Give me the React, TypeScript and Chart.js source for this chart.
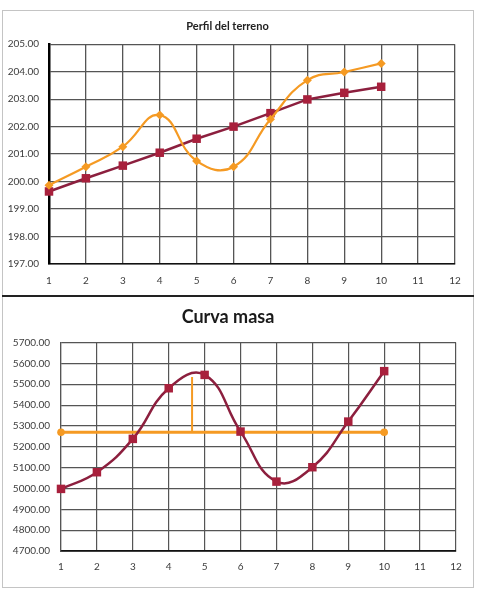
import React, { useEffect, useRef } from "react";
import { Chart, registerables } from "chart.js";

Chart.register(...registerables);

const xValues = [1, 2, 3, 4, 5, 6, 7, 8, 9, 10];
const rasante = [199.64, 200.12, 200.58, 201.05, 201.56, 202.0, 202.49, 202.99, 203.23, 203.45];
const terreno = [199.87, 200.54, 201.27, 202.42, 200.75, 200.54, 202.27, 203.69, 203.99, 204.3];
const masa = [4998, 5078, 5238, 5481, 5545, 5273, 5033, 5102, 5321, 5563];
const compensadoraX = [1, 10];
const compensadoraY = 5270;
const ordenadaX = 4.65;
const ordenadaTop = 5535;

const RED_LINE = "#8c1f3e";
const RED_POINT = "#a8203c";
const ORANGE = "#f59a23";
const GRID = "#555555";
const TICK = "#3c3c3c";
const FONT = "Lato";

const pts = (xs: number[], ys: number[]) => xs.map((x, i) => ({ x, y: ys[i] }));

function usePlainChart(ref: React.RefObject<HTMLCanvasElement | null>, cfg: () => any) {
  useEffect(() => {
    if (!ref.current) return;
    const c = new Chart(ref.current, cfg());
    return () => c.destroy();
  }, []);
}

export default function App() {
  const top = useRef<HTMLCanvasElement | null>(null);
  const bot = useRef<HTMLCanvasElement | null>(null);

  usePlainChart(top, () => ({
    type: "line",
    data: {
      datasets: [
        {
          label: "Terreno",
          data: pts(xValues, terreno),
          borderColor: ORANGE,
          backgroundColor: ORANGE,
          borderWidth: 2.2,
          pointStyle: "rectRot",
          pointRadius: 4.5,
          pointBorderWidth: 0,
          tension: 0.45,
          clip: false,
        },
        {
          label: "Rasante",
          data: pts(xValues, rasante),
          borderColor: RED_LINE,
          backgroundColor: RED_POINT,
          borderWidth: 2.5,
          pointStyle: "rect",
          pointRadius: 6,
          pointBorderWidth: 0,
          tension: 0,
          clip: false,
        },
      ],
    },
    options: {
      responsive: false,
      animation: false,
      layout: { padding: { left: 0, right: 25, top: 0, bottom: 0 } },
      plugins: {
        legend: { display: false },
        tooltip: { enabled: false },
        title: {
          display: true,
          text: "Perfil del terreno",
          color: "#222",
          font: { family: FONT, size: 11, weight: "bold" },
          padding: { top: 20, bottom: 11 },
        },
      },
      scales: {
        x: {
          type: "linear",
          min: 1,
          max: 12,
          afterFit: (s: any) => { s.height = 32; },
          ticks: { stepSize: 1, padding: 11, color: TICK, font: { family: FONT, size: 10 } },
          grid: { color: GRID, lineWidth: 1.3, drawTicks: false },
          border: { color: "#111", width: 1.5 },
        },
        y: {
          min: 197,
          max: 205,
          afterFit: (s: any) => { s.width = 49; },
          ticks: {
            stepSize: 1,
            padding: 10,
            color: TICK,
            font: { family: FONT, size: 10 },
            callback: (v: any) => Number(v).toFixed(2),
          },
          grid: { color: GRID, lineWidth: 1.3, drawTicks: false },
          border: { color: "#000", width: 2.5 },
        },
      },
    },
  }));

  usePlainChart(bot, () => ({
    type: "line",
    data: {
      datasets: [
        {
          label: "Curva masa",
          data: pts(xValues, masa),
          borderColor: RED_LINE,
          backgroundColor: RED_POINT,
          borderWidth: 2.5,
          pointStyle: "rect",
          pointRadius: 6,
          pointBorderWidth: 0,
          tension: 0.45,
          clip: false,
        },
        {
          label: "Compensadora",
          data: compensadoraX.map((x) => ({ x, y: compensadoraY })),
          borderColor: ORANGE,
          backgroundColor: ORANGE,
          borderWidth: 3,
          pointStyle: "circle",
          pointRadius: 3.8,
          pointBorderWidth: 0,
          tension: 0,
          clip: false,
        },
        {
          label: "Ordenada",
          data: [
            { x: ordenadaX, y: compensadoraY },
            { x: ordenadaX, y: ordenadaTop },
          ],
          borderColor: ORANGE,
          borderWidth: 2,
          pointRadius: 0,
          tension: 0,
          clip: false,
        },
      ],
    },
    options: {
      responsive: false,
      animation: false,
      layout: { padding: { left: 0, right: 24, top: 0, bottom: 0 } },
      plugins: {
        legend: { display: false },
        tooltip: { enabled: false },
        title: {
          display: true,
          text: "Curva masa",
          color: "#1a1a1a",
          font: { family: FONT, size: 18, weight: "bold" },
          padding: { top: 10, bottom: 15 },
        },
      },
      scales: {
        x: {
          type: "linear",
          min: 1,
          max: 12,
          afterFit: (s: any) => { s.height = 50; },
          ticks: { stepSize: 1, padding: 10, color: TICK, font: { family: FONT, size: 10 } },
          grid: { color: GRID, lineWidth: 1.2, drawTicks: false },
          border: { color: "#111", width: 1.8 },
        },
        y: {
          min: 4700,
          max: 5700,
          afterFit: (s: any) => { s.width = 61; },
          ticks: {
            stepSize: 100,
            padding: 11,
            color: TICK,
            font: { family: FONT, size: 10 },
            callback: (v: any) => Number(v).toFixed(2),
          },
          grid: { color: GRID, lineWidth: 1.2, drawTicks: false },
          border: { color: GRID, width: 1.2 },
        },
      },
    },
  }));

  return (
    <div style={{ position: "absolute", left: 0, top: 0, width: 480, height: 601, background: "#fff", overflow: "hidden" }}>
      <div style={{ position: "absolute", left: 2, top: 10, width: 472, height: 286, border: "1px solid #c4c4c4", boxSizing: "border-box" }} />
      <div style={{ position: "absolute", left: 2, top: 296, width: 472, height: 292, border: "1px solid #c4c4c4", borderTop: "none", boxSizing: "border-box" }} />
      <div style={{ position: "absolute", left: 2, top: 294.5, width: 472, height: 2, background: "#222" }} />
      <canvas ref={top} width={480} height={296} style={{ position: "absolute", left: 0, top: 0 }} />
      <canvas ref={bot} width={480} height={305} style={{ position: "absolute", left: 0, top: 296 }} />
    </div>
  );
}
